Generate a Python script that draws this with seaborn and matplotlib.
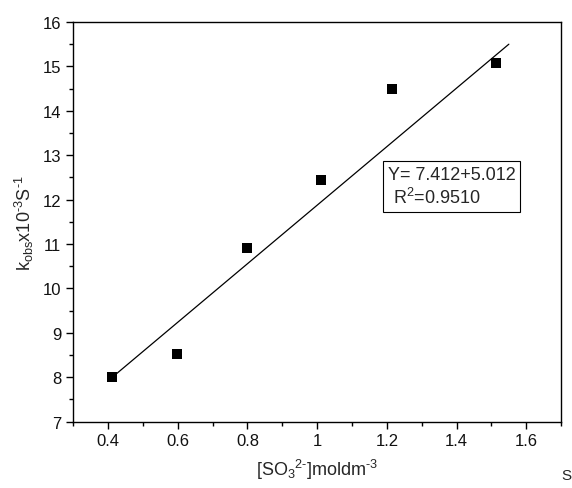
import matplotlib
matplotlib.use("Agg")
import matplotlib.pyplot as plt
from matplotlib.ticker import MultipleLocator
import seaborn as sns
import pandas as pd

# Observed rate constants versus sulfite concentration
conc = [0.412, 0.599, 0.800, 1.010, 1.216, 1.513]
k_obs = [8.00, 8.52, 10.92, 12.45, 14.50, 15.07]

# Linear fit drawn across the measured range
fit_x = [0.412, 1.550]
fit_y = [8.00, 15.50]

fit_label = "Y= 7.412+5.012\n R$^2$=0.9510"

sns.set_theme(style="ticks")
plt.rcParams["font.family"] = ["Liberation Sans", "DejaVu Sans"]
plt.rcParams["mathtext.fontset"] = "custom"
plt.rcParams["mathtext.rm"] = "Liberation Sans"
plt.rcParams["mathtext.it"] = "Liberation Sans"

fig = plt.figure(figsize=(5.72, 4.89), dpi=100)
ax = fig.add_axes([0.128, 0.1356, 0.853, 0.8174])

df = pd.DataFrame({"conc": conc, "k": k_obs})
fit = pd.DataFrame({"x": fit_x, "y": fit_y})

sns.lineplot(data=fit, x="x", y="y", ax=ax, color="black", linewidth=0.9)
sns.scatterplot(data=df, x="conc", y="k", ax=ax, marker="s", s=55,
                color="black", edgecolor="black", linewidth=0, zorder=3)

ax.set_xlim(0.3, 1.7)
ax.set_ylim(7, 16)
ax.xaxis.set_major_locator(MultipleLocator(0.2))
ax.xaxis.set_minor_locator(MultipleLocator(0.1))
ax.yaxis.set_major_locator(MultipleLocator(1))
ax.yaxis.set_minor_locator(MultipleLocator(0.5))
ax.set_xticks([0.4, 0.6, 0.8, 1.0, 1.2, 1.4, 1.6])
ax.set_xticklabels(["0.4", "0.6", "0.8", "1", "1.2", "1.4", "1.6"])

ax.tick_params(which="major", direction="out", length=5, width=1, labelsize=12,
               color="black", labelcolor="#111111")
ax.tick_params(which="minor", direction="out", length=3, width=1, color="black")
for sp in ax.spines.values():
    sp.set_linewidth(1.0)
    sp.set_color("black")

ax.set_xlabel("[SO$_3$$^{2\\text{-}}$]moldm$^{\\text{-}3}$", fontsize=13, labelpad=6)
ax.set_ylabel("k$_{obs}$x10$^{\\text{-}3}$S$^{\\text{-}1}$", fontsize=13, labelpad=5)

ax.text(0.645, 0.64, fit_label, transform=ax.transAxes, fontsize=13,
        va="top", ha="left", linespacing=1.25,
        bbox=dict(boxstyle="square,pad=0.25", facecolor="white",
                  edgecolor="black", linewidth=0.8))

fig.text(0.999, 0.012, "S", fontsize=11, ha="right", va="bottom")

fig.savefig("out.png", dpi=100)
